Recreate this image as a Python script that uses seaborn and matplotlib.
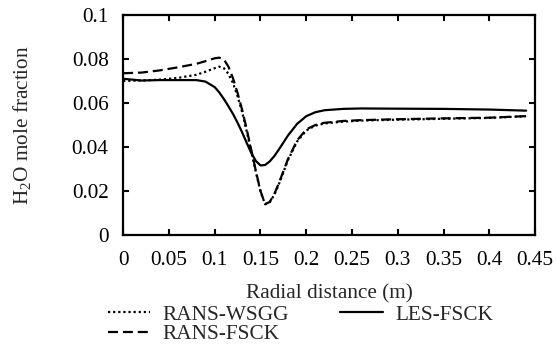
import numpy as np
import pandas as pd
import matplotlib
matplotlib.use("Agg")
import matplotlib.pyplot as plt
import seaborn as sns

x = [0, 0.02, 0.04, 0.06, 0.08, 0.09, 0.10, 0.105, 0.11, 0.115, 0.12, 0.125,
     0.13, 0.135, 0.14, 0.145, 0.15, 0.155, 0.16, 0.165, 0.17, 0.175, 0.18,
     0.19, 0.2, 0.21, 0.22, 0.24, 0.26, 0.3, 0.35, 0.4, 0.44]

les_fsck = [0.0710, 0.0702, 0.0704, 0.0704, 0.0704, 0.0697, 0.0672, 0.0648,
            0.0618, 0.0585, 0.0550, 0.0510, 0.0466, 0.0418, 0.0372, 0.0336,
            0.0316, 0.0318, 0.0334, 0.0358, 0.0388, 0.0420, 0.0452, 0.0505,
            0.0540, 0.0558, 0.0567, 0.0573, 0.0575, 0.0574, 0.0573, 0.0570,
            0.0565]

rans_fsck = [0.0735, 0.0738, 0.0748, 0.0762, 0.0778, 0.0790, 0.0803, 0.0806,
             0.0798, 0.0765, 0.0712, 0.0645, 0.0568, 0.0480, 0.0385, 0.0290,
             0.0200, 0.0140, 0.0150, 0.0185, 0.0235, 0.0290, 0.0345, 0.0430,
             0.0480, 0.0500, 0.0510, 0.0518, 0.0522, 0.0526, 0.0530, 0.0533,
             0.0540]

rans_wsgg = [0.0700, 0.0702, 0.0706, 0.0714, 0.0728, 0.0742, 0.0758, 0.0765,
             0.0758, 0.0732, 0.0690, 0.0630, 0.0558, 0.0470, 0.0378, 0.0285,
             0.0198, 0.0140, 0.0148, 0.0182, 0.0230, 0.0285, 0.0340, 0.0425,
             0.0475, 0.0497, 0.0507, 0.0515, 0.0520, 0.0524, 0.0528, 0.0532,
             0.0540]

xticks = [0, 0.05, 0.1, 0.15, 0.2, 0.25, 0.3, 0.35, 0.4, 0.45]
xtick_labels = ["0", "0.05", "0.1", "0.15", "0.2", "0.25", "0.3", "0.35", "0.4", "0.45"]
yticks = [0, 0.02, 0.04, 0.06, 0.08, 0.1]
ytick_labels = ["0", "0.02", "0.04", "0.06", "0.08", "0.1"]

sns.set_theme(style="ticks")
plt.rcParams['font.family'] = ['Liberation Serif', 'DejaVu Serif']
plt.rcParams['mathtext.fontset'] = 'custom'
plt.rcParams['mathtext.rm'] = 'Liberation Serif'

FS = 15.3
fig = plt.figure(figsize=(5.57, 3.56), dpi=100)
ax = fig.add_axes([0.221, 0.340, 0.740, 0.618])

df_w = pd.DataFrame({"x": x, "y": rans_wsgg})
df_f = pd.DataFrame({"x": x, "y": rans_fsck})
df_l = pd.DataFrame({"x": x, "y": les_fsck})

sns.lineplot(data=df_w, x="x", y="y", ax=ax, color="black", lw=1.6,
             linestyle=(0, (1, 1.3)), label="RANS-WSGG")
sns.lineplot(data=df_f, x="x", y="y", ax=ax, color="black", lw=1.6,
             linestyle=(0, (4.5, 2.2)), label="RANS-FSCK")
sns.lineplot(data=df_l, x="x", y="y", ax=ax, color="black", lw=1.6,
             linestyle="-", label="LES-FSCK")

ax.set_xlim(0, 0.45)
ax.set_ylim(0, 0.1)
ax.set_xticks(xticks)
ax.set_xticklabels(xtick_labels)
ax.set_yticks(yticks)
ax.set_yticklabels(ytick_labels)
ax.tick_params(axis="both", direction="in", length=4, width=1.5,
               top=True, right=True, labelsize=FS, colors="black")
ax.tick_params(axis="x", pad=11.5)
ax.tick_params(axis="y", pad=10.5)
for s in ax.spines.values():
    s.set_linewidth(1.6)
    s.set_color("black")

ax.set_xlabel("Radial distance (m)", fontsize=FS, labelpad=10)
ax.set_ylabel("H$_2$O mole fraction", fontsize=FS, labelpad=27)

handles, labels = ax.get_legend_handles_labels()
ax.legend(handles, labels, ncol=2, frameon=False, fontsize=FS,
          loc="upper left", bbox_to_anchor=(0.193, 0.144),
          bbox_transform=fig.transFigure, handlelength=2.0,
          handletextpad=0.6, columnspacing=2.4, labelspacing=0.0,
          borderpad=0, borderaxespad=0)

fig.savefig("out.png", dpi=100)
